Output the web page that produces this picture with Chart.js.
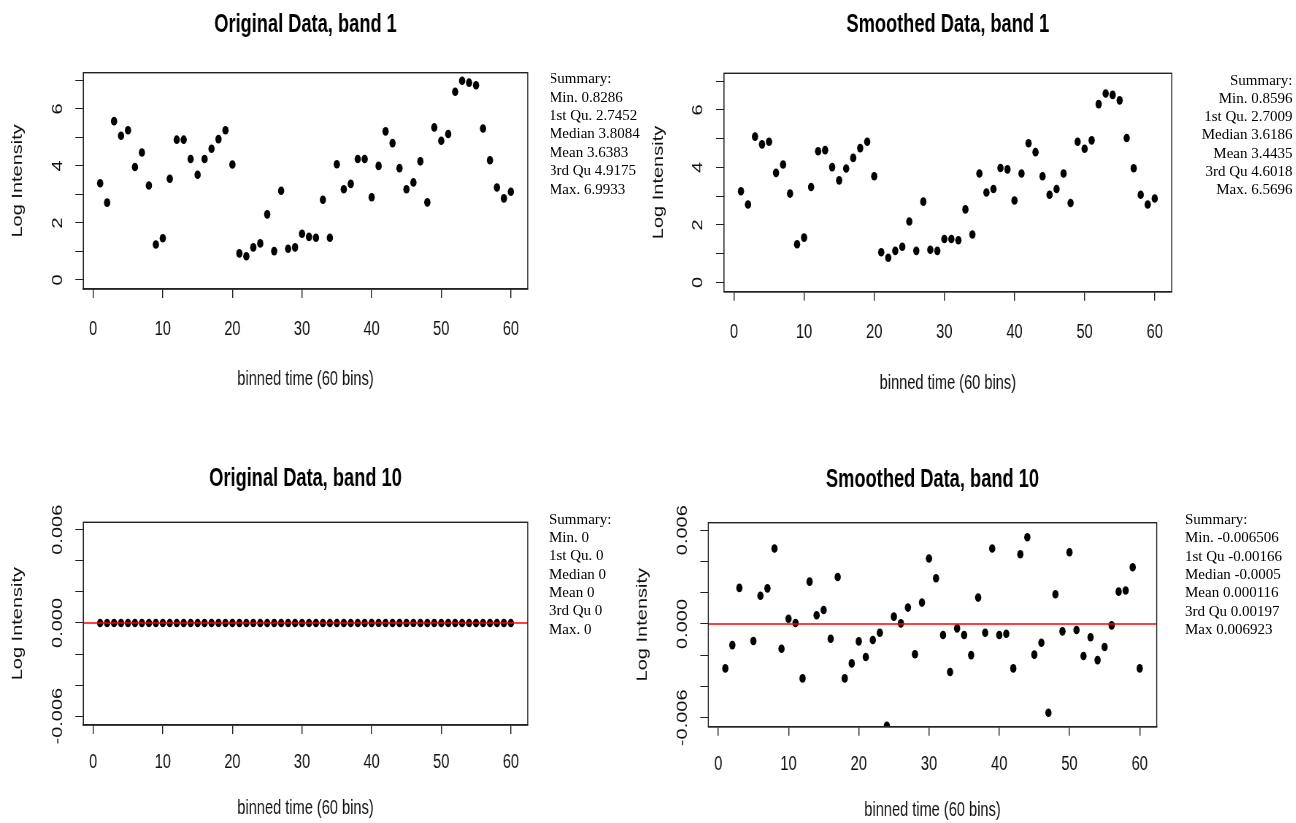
<!DOCTYPE html>
<html><head><meta charset="utf-8">
<script src="https://cdn.jsdelivr.net/npm/chart.js@4.4.0/dist/chart.umd.min.js"></script>
<style>
html,body{margin:0;padding:0;background:#fff;}
body{width:1296px;height:823px;position:relative;overflow:hidden;}
.wrap{position:absolute;transform-origin:0 0;}
.wrap canvas{display:block;}
.sum{position:absolute;font-family:'Liberation Serif','Times New Roman',serif;font-size:15px;color:#000;white-space:pre;overflow:hidden;}
</style></head><body>
<div class="wrap" id="w0"><canvas id="c0"></canvas></div>
<div class="wrap" id="w1"><canvas id="c1"></canvas></div>
<div class="wrap" id="w2"><canvas id="c2"></canvas></div>
<div class="wrap" id="w3"><canvas id="c3"></canvas></div>
<div class="sum" id="s0"></div>
<div class="sum" id="s1"></div>
<div class="sum" id="s2"></div>
<div class="sum" id="s3"></div>
<script>
// ---------------- data ----------------
const bins = [1,2,3,4,5,6,7,8,9,10,11,12,13,14,15,16,17,18,19,20,21,22,23,24,25,26,27,28,29,30,
              31,32,33,34,35,36,37,38,39,40,41,42,43,44,45,46,47,48,49,50,51,52,53,54,55,56,57,58,59,60];
const originalBand1 = [3.39,2.71,5.57,5.06,5.25,3.96,4.47,3.31,1.24,1.46,
                       3.55,4.92,4.92,4.24,3.69,4.24,4.60,4.94,5.25,4.05,
                       0.93,0.83,1.14,1.28,2.30,1.01,3.13,1.09,1.14,1.62,
                       1.51,1.48,2.81,1.48,4.06,3.18,3.37,4.24,4.24,2.90,
                       4.00,5.21,4.80,3.92,3.18,3.42,4.16,2.72,5.35,4.88,
                       5.12,6.60,6.99,6.92,6.83,5.31,4.20,3.24,2.86,3.09];
const smoothedBand1 = [3.17,2.71,5.07,4.80,4.89,3.81,4.10,3.09,1.33,1.56,
                       3.32,4.56,4.60,4.01,3.55,3.96,4.33,4.67,4.89,3.69,
                       1.05,0.86,1.10,1.24,2.12,1.10,2.81,1.14,1.10,1.51,
                       1.51,1.47,2.54,1.67,3.79,3.13,3.25,3.98,3.93,2.85,
                       3.79,4.84,4.53,3.69,3.05,3.25,3.79,2.76,4.89,4.65,
                       4.94,6.20,6.57,6.52,6.33,5.02,3.97,3.05,2.71,2.92];
const originalBand10 = [0,0,0,0,0,0,0,0,0,0,0,0,0,0,0,0,0,0,0,0,0,0,0,0,0,0,0,0,0,0,
                        0,0,0,0,0,0,0,0,0,0,0,0,0,0,0,0,0,0,0,0,0,0,0,0,0,0,0,0,0,0];
const smoothedBand10 = [-0.00284,-0.00135,0.00231,0.00692,-0.00109,0.00181,0.00228,0.00483,-0.00158,0.00034,
                        0.00006,-0.00348,0.00271,0.00056,0.00090,-0.00094,0.00301,-0.00348,-0.00252,-0.00111,
                        -0.00211,-0.00102,-0.00056,-0.00651,0.00047,0.00004,0.00105,-0.00194,0.00137,0.00419,
                        0.00293,-0.00070,-0.00307,-0.00028,-0.00070,-0.00199,0.00169,-0.00056,0.00483,-0.00070,
                        -0.00062,-0.00284,0.00446,0.00555,-0.00196,-0.00120,-0.00568,0.00190,-0.00047,0.00459,
                        -0.00038,-0.00205,-0.00085,-0.00231,-0.00147,-0.00009,0.00207,0.00214,0.00363,-0.00284];
const xTicks = [0,10,20,30,40,50,60];
const xRange = [-1.42, 62.42];
const yTicksBand1 = [0,1,2,3,4,5,6,7];
const yLabelValsBand1 = [0,2,4,6];
const yLabelTextBand1 = ['0','2','4','6'];
const yRangeBand1 = [-0.32, 7.27];
const yTicksBand10 = [-0.006,-0.004,-0.002,0,0.002,0.004,0.006];
const yLabelValsBand10 = [-0.006,0,0.006];
const yLabelTextBand10 = ['-0.006','0.000','0.006'];
const yRangeBand10 = [-0.00657, 0.00648];
const titles = ['Original Data, band 1','Smoothed Data, band 1','Original Data, band 10','Smoothed Data, band 10'];
const xTitle = 'binned time (60 bins)';
const yTitle = 'Log Intensity';
const summaries = [
  ['Summary:','Min. 0.8286','1st Qu. 2.7452','Median 3.8084','Mean 3.6383','3rd Qu 4.9175','Max. 6.9933'],
  ['Summary:','Min. 0.8596','1st Qu. 2.7009','Median 3.6186','Mean 3.4435','3rd Qu 4.6018','Max. 6.5696'],
  ['Summary:','Min. 0','1st Qu. 0','Median 0','Mean 0','3rd Qu 0','Max. 0'],
  ['Summary:','Min. -0.006506','1st Qu -0.00166','Median -0.0005','Mean 0.000116','3rd Qu 0.00197','Max 0.006923']
];

// ---------------- layout ----------------
const S = 0.73;               // horizontal squeeze of the original figure
const CH = 411;               // canvas height
const panels = [
  {qx:0,   qy:0,   qw:648, box:[83.3, 527.7, 72.7, 289.0], series:originalBand1,  band:1,  zero:false, titleOff:41, xLabOff:46, xTitleOff:95.5},
  {qx:600, qy:0,   qw:696, box:[724.0,1171.7,73.3, 291.7], series:smoothedBand1,  band:1,  zero:false, titleOff:41, xLabOff:46, xTitleOff:97},
  {qx:0,   qy:412, qw:648, box:[83.3, 527.7, 522.3,725.0], series:originalBand10, band:10, zero:true,  titleOff:36, xLabOff:43, xTitleOff:89},
  {qx:600, qy:412, qw:696, box:[708.3,1156.7,522.7,726.7], series:smoothedBand10, band:10, zero:true,  titleOff:36, xLabOff:43, xTitleOff:89}
];
const sumPos = [
  {left:551, top:69.1, w:97, align:'left', shift:-2, lh:18.45},
  {left:1100, top:70.7, w:192.5, align:'right', shift:0, lh:18.2},
  {left:549, top:509.7, w:99, align:'left', shift:0, lh:18.35},
  {left:1185, top:509.7, w:111, align:'left', shift:0, lh:18.4}
];

const FONT = '"Liberation Sans", Arial, sans-serif';
const rPlugin = {
  id: 'rstyle',
  afterDraw(chart, args, o) {
    const ctx = chart.ctx, a = chart.chartArea, xs = chart.scales.x, ys = chart.scales.y;
    ctx.save();
    ctx.strokeStyle = '#222'; ctx.lineWidth = 1.4;
    ctx.strokeRect(a.left, a.top, a.right - a.left, a.bottom - a.top);
    ctx.fillStyle = '#111';
    ctx.font = '20px ' + FONT;
    ctx.textAlign = 'center'; ctx.textBaseline = 'alphabetic';
    o.xLabels.forEach(v => ctx.fillText(String(v), xs.getPixelForValue(v), a.bottom + o.xLabOff));
    ctx.fillText(o.xTitle, (a.left + a.right) / 2, a.bottom + o.xTitleOff);
    o.yLabelVals.forEach((v, i) => {
      ctx.save();
      ctx.translate(a.left - 21.6 / S, ys.getPixelForValue(v));
      ctx.rotate(-Math.PI / 2);
      ctx.fillText(o.yLabelText[i], 0, 0);
      ctx.restore();
    });
    ctx.save();
    ctx.translate(a.left - 61.4 / S, (a.top + a.bottom) / 2);
    ctx.rotate(-Math.PI / 2);
    ctx.fillText(o.yTitle, 0, 0);
    ctx.restore();
    ctx.font = 'bold 25px ' + FONT;
    ctx.fillStyle = '#000';
    ctx.fillText(o.title, (a.left + a.right) / 2, a.top - o.titleOff);
    ctx.restore();
  }
};

panels.forEach((p, k) => {
  const cw = Math.ceil(p.qw / S);
  const wrap = document.getElementById('w' + k);
  wrap.style.left = p.qx + 'px';
  wrap.style.top = p.qy + 'px';
  wrap.style.width = cw + 'px';
  wrap.style.height = CH + 'px';
  wrap.style.transform = 'scaleX(' + S + ')';
  const cv = document.getElementById('c' + k);
  cv.width = cw; cv.height = CH;
  cv.style.width = cw + 'px'; cv.style.height = CH + 'px';
  const L = (p.box[0] - p.qx) / S, R = (p.box[1] - p.qx) / S;
  const T = p.box[2] - p.qy, B = p.box[3] - p.qy;
  const yTL = 8 / S, xTL = 9;
  const b1 = p.band === 1;
  const yTicks = b1 ? yTicksBand1 : yTicksBand10;
  const yRange = b1 ? yRangeBand1 : yRangeBand10;
  const datasets = [];
  if (p.zero) {
    datasets.push({type:'line', data:[{x:xRange[0], y:0}, {x:xRange[1], y:0}], borderColor:'#ff0000',
      borderWidth:1.6, pointRadius:0, order:0, clip:0});
  }
  datasets.push({type:'scatter', data: bins.map((b, i) => ({x:b, y:p.series[i]})),
    backgroundColor:'#000', borderColor:'#000', borderWidth:0, pointRadius:4.3, pointStyle:'circle', order:1, clip:0});
  new Chart(cv, {
    type: 'scatter',
    data: {datasets},
    options: {
      responsive:false, animation:false, devicePixelRatio:1, events:[],
      layout: {padding: {left: L - yTL, right: cw - R, top: T, bottom: CH - B - xTL}},
      plugins: {
        legend:{display:false}, tooltip:{enabled:false}, title:{display:false},
        rstyle: {xLabels:xTicks, xTitle, yTitle, title:titles[k],
          yLabelVals: b1 ? yLabelValsBand1 : yLabelValsBand10,
          yLabelText: b1 ? yLabelTextBand1 : yLabelTextBand10,
          titleOff:p.titleOff, xLabOff:p.xLabOff, xTitleOff:p.xTitleOff}
      },
      scales: {
        x: {type:'linear', min:xRange[0], max:xRange[1],
          afterBuildTicks: sc => { sc.ticks = xTicks.map(v => ({value:v})); },
          afterFit: sc => { sc.height = xTL; },
          grid:{drawOnChartArea:false, drawTicks:true, tickLength:xTL, color:'#222', lineWidth:1.4},
          border:{display:true, color:'#222', width:1.4},
          ticks:{display:false}},
        y: {type:'linear', min:yRange[0], max:yRange[1],
          afterBuildTicks: sc => { sc.ticks = yTicks.map(v => ({value:v})); },
          afterFit: sc => { sc.width = yTL; },
          grid:{drawOnChartArea:false, drawTicks:true, tickLength:yTL, color:'#222', lineWidth:1},
          border:{display:true, color:'#222', width:1},
          ticks:{display:false}}
      }
    },
    plugins: [rPlugin]
  });
});

summaries.forEach((lines, k) => {
  const sp = sumPos[k];
  const d = document.getElementById('s' + k);
  d.style.left = sp.left + 'px';
  d.style.top = sp.top + 'px';
  d.style.width = sp.w + 'px';
  d.style.lineHeight = sp.lh + 'px';
  d.style.textAlign = sp.align;
  const inner = document.createElement('div');
  inner.style.marginLeft = sp.shift + 'px';
  inner.textContent = lines.join('\n');
  d.appendChild(inner);
});
</script>
</body></html>
